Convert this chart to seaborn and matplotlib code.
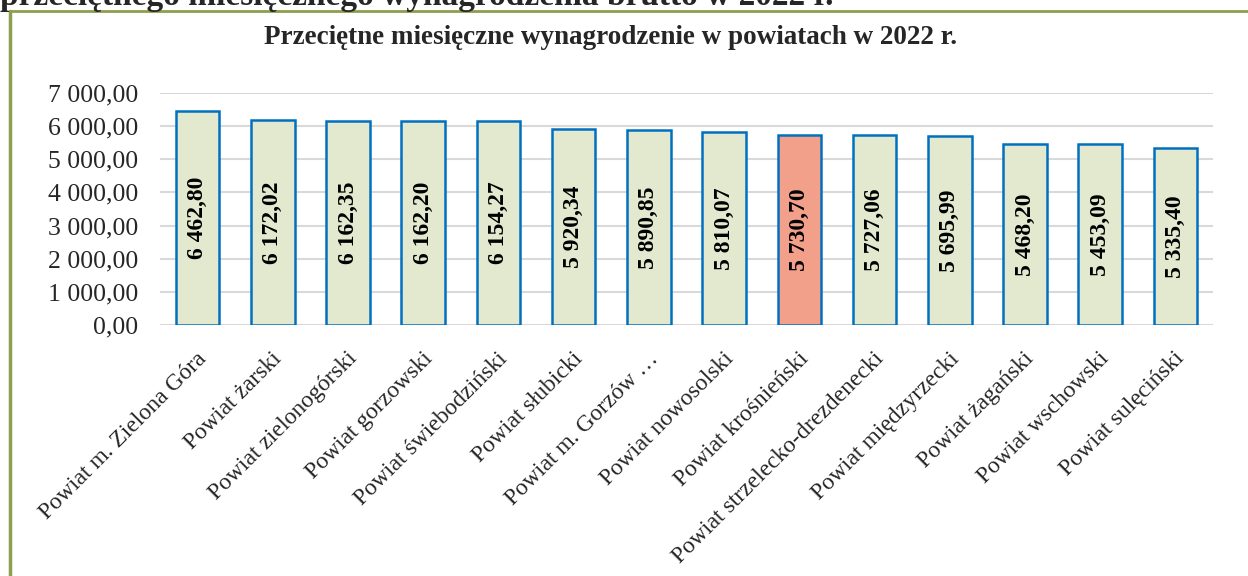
import matplotlib
matplotlib.use("Agg")
import matplotlib.pyplot as plt
import matplotlib.transforms as mtransforms
from matplotlib.lines import Line2D
import seaborn as sns
import pandas as pd

# data
powiaty = [
    "Powiat m. Zielona Góra", "Powiat żarski", "Powiat zielonogórski",
    "Powiat gorzowski", "Powiat świebodziński", "Powiat słubicki",
    "Powiat m. Gorzów …", "Powiat nowosolski", "Powiat krośnieński",
    "Powiat strzelecko-drezdenecki", "Powiat międzyrzecki", "Powiat żagański",
    "Powiat wschowski", "Powiat sulęciński",
]
wynagrodzenie = [6462.80, 6172.02, 6162.35, 6162.20, 6154.27, 5920.34, 5890.85,
                 5810.07, 5730.70, 5727.06, 5695.99, 5468.20, 5453.09, 5335.40]
wyrozniony = "Powiat krośnieński"
y_ticks = [0, 1000, 2000, 3000, 4000, 5000, 6000, 7000]

title = "Przeciętne miesięczne wynagrodzenie w powiatach w 2022 r."
header = "przeciętnego miesięcznego wynagrodzenia brutto w 2022 r."


def pl_format(v):
    s = f"{v:,.2f}"
    return s.replace(",", " ").replace(".", ",")


sns.set_theme(style="white")
plt.rcParams["font.family"] = ["Liberation Serif", "DejaVu Serif"]

df = pd.DataFrame({"powiat": powiaty, "wartosc": wynagrodzenie})
colors = {p: ("#f2a089" if p == wyrozniony else "#e3e9cf") for p in powiaty}

fig = plt.figure(figsize=(12.48, 5.76), dpi=100)
ax = fig.add_axes([160 / 1248, 1 - 325 / 576, 1053 / 1248, 232 / 576])

sns.barplot(data=df, x="powiat", y="wartosc", hue="powiat", palette=colors,
            legend=False, width=0.58, edgecolor="#0070c0", linewidth=1.8,
            saturation=1, ax=ax)

for cont in ax.containers:
    ax.bar_label(cont, labels=[pl_format(b.get_height()) for b in cont],
                 label_type="center", rotation=90, fontsize=17,
                 fontweight="bold", color="black")

ax.set_ylim(0, 7000)
ax.set_xlim(-0.5, len(powiaty) - 0.5)
ax.set_yticks(y_ticks)
ax.set_yticklabels([pl_format(t) for t in y_ticks], fontsize=18.5)
ax.yaxis.grid(True, color="#d9d9d9", linewidth=1.5)
ax.set_axisbelow(True)
for s in ax.spines.values():
    s.set_visible(False)
ax.tick_params(axis="y", length=0, pad=16)
ax.tick_params(axis="x", length=0, pad=22)
ax.set_xlabel("")
ax.set_ylabel("")

ax.set_xticks(range(len(powiaty)))
ax.set_xticklabels(powiaty, rotation=45, ha="right", va="center",
                   rotation_mode="anchor", fontsize=17)
shift = mtransforms.ScaledTranslation(6 / 100, 0, fig.dpi_scale_trans)
for lab in ax.get_xticklabels():
    lab.set_transform(lab.get_transform() + shift)

fig.text(0.489, 1 - 38 / 576, title, ha="center", va="center",
         fontsize=19.5, fontweight="bold")
fig.text(0.0, 1 - 5 / 576, header, ha="left", va="baseline",
         fontsize=24, fontweight="bold")

# olive frame around the chart
frame_c = "#8c9f4c"
fig.add_artist(Line2D([10 / 1248, 1], [1 - 11 / 576, 1 - 11 / 576],
                      transform=fig.transFigure, color=frame_c, linewidth=2))
fig.add_artist(Line2D([10 / 1248, 10 / 1248], [0, 1 - 11 / 576],
                      transform=fig.transFigure, color=frame_c, linewidth=2.5))

fig.savefig("out.png", dpi=100)
